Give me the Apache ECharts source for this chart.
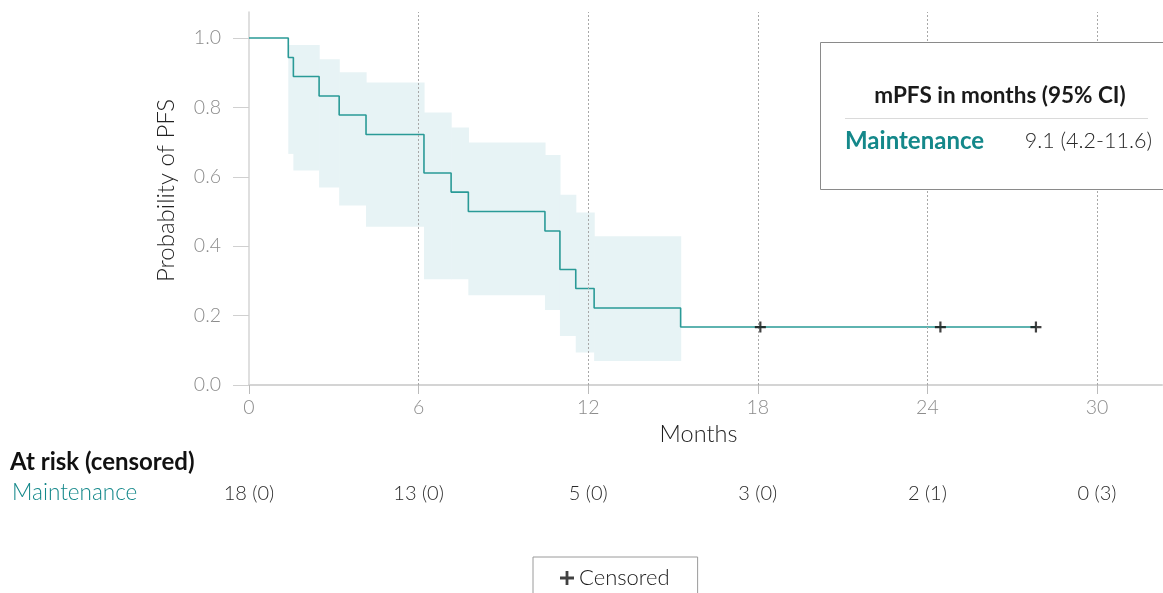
<!DOCTYPE html>
<html>
<head>
<meta charset="utf-8">
<script src="https://cdn.jsdelivr.net/npm/echarts@6/dist/echarts.min.js"></script>
<style>
html,body{margin:0;padding:0;background:#fff;}
#c{width:1163px;height:593px;}
</style>
</head>
<body>
<div id="c"></div>
<script>
// ---- data ----
const eventTimes = [0, 1.39, 1.57, 2.48, 3.19, 4.14, 6.19, 7.15, 7.76, 10.47, 11.0, 11.56, 12.21, 15.27, 27.84];
const survival   = [1.0, 0.944, 0.889, 0.833, 0.778, 0.722, 0.611, 0.556, 0.5, 0.444, 0.333, 0.278, 0.222, 0.167, 0.167];
const bandStarts = [1.39, 1.57, 2.48, 3.19, 4.14, 6.19, 7.15, 7.76, 10.47, 11.0, 11.56, 12.21];
const bandEnds   = [1.57, 2.48, 3.19, 4.14, 6.19, 7.15, 7.76, 10.47, 11.0, 11.56, 12.21, 15.27];
const ciUpper    = [0.98, 0.98, 0.939, 0.901, 0.872, 0.785, 0.742, 0.699, 0.663, 0.548, 0.497, 0.429];
const ciLower    = [0.666, 0.618, 0.569, 0.517, 0.456, 0.305, 0.305, 0.259, 0.216, 0.141, 0.094, 0.069];
const censorTimes  = [18.09, 24.46, 27.84];
const censorValues = [0.167, 0.167, 0.167];
const xTicks = [0, 6, 12, 18, 24, 30];
const gridMonths = [6, 12, 18, 24, 30];
const yTicks = [0, 0.2, 0.4, 0.6, 0.8, 1.0];
const atRiskTimes  = [0, 6, 12, 18, 24, 30];
const atRiskLabels = ['18 (0)', '13 (0)', '5 (0)', '3 (0)', '2 (1)', '0 (3)'];
const groupName = 'Maintenance';
const medianText = '9.1 (4.2-11.6)';

// ---- style ----
const FONT = 'Lato, "Noto Sans", sans-serif';
const TEAL = '#2a9a97';
const TEAL_TEXT = '#14888a';
const BAND = '#e7f3f5';
const PLUS = 'path://M4,0H6V4H10V6H6V10H4V6H0V4H4Z';

const chart = echarts.init(document.getElementById('c'), null, {renderer: 'canvas'});

const option = {
  animation: false,
  backgroundColor: '#fff',
  textStyle: {fontFamily: FONT},
  grid: {left: 249, right: 1, top: 12, bottom: 208, containLabel: false},
  xAxis: [{
    type: 'value', min: 0, max: 32.3,
    name: 'Months', nameLocation: 'middle', nameGap: 35,
    nameTextStyle: {fontFamily: FONT, fontSize: 23.5, color: '#1e1e1e', fontWeight: 300, padding: [0, 14, 0, 0]},
    axisLine: {lineStyle: {color: '#d4d4d4', width: 2}},
    axisTick: {customValues: xTicks, length: 9, lineStyle: {color: '#bbb'}},
    axisLabel: {customValues: xTicks, margin: 13, color: '#8c8c8c', fontSize: 19.5, fontFamily: FONT, fontWeight: 300},
    splitLine: {show: false}
  }, {
    type: 'value', min: 0, max: 32.3, position: 'bottom', offset: 99,
    axisLine: {show: false}, axisTick: {show: false}, splitLine: {show: false},
    axisLabel: {
      customValues: atRiskTimes, margin: 0, fontSize: 20, color: '#2a2a2a', fontFamily: FONT, fontWeight: 300,
      formatter: v => atRiskLabels[atRiskTimes.indexOf(v)]
    }
  }],
  yAxis: {
    type: 'value', min: 0, max: 1.075,
    name: 'Probability of PFS', nameLocation: 'middle', nameGap: 71,
    nameTextStyle: {fontFamily: FONT, fontSize: 24, color: '#222', fontWeight: 300, padding: [0, 0, 0, 16]},
    axisLine: {show: true, lineStyle: {color: '#d4d4d4', width: 1.5}},
    axisTick: {show: true, customValues: yTicks, length: 16, lineStyle: {color: '#d0d0d0'}},
    axisLabel: {customValues: yTicks, margin: 28, color: '#8c8c8c', fontSize: 19.5, fontFamily: FONT, fontWeight: 300,
      formatter: v => v.toFixed(1)},
    splitLine: {show: false}
  },
  legend: {
    data: [{name: 'Censored', icon: PLUS}],
    left: 533, top: 557,
    padding: [10, 28, 30, 27],
    borderColor: '#9a9a9a', borderWidth: 1,
    itemWidth: 14, itemHeight: 14, itemGap: 8,
    textStyle: {fontFamily: FONT, fontSize: 22, color: '#1a1a1a', fontWeight: 300},
    selectedMode: false
  },
  series: [{
    type: 'custom', name: 'CI', xAxisIndex: 0, yAxisIndex: 0, z: 1,
    silent: true,
    data: bandStarts.map((s, i) => [s, bandEnds[i], ciLower[i], ciUpper[i]]),
    renderItem: (params, api) => {
      const p1 = api.coord([api.value(0), api.value(3)]);
      const p2 = api.coord([api.value(1), api.value(2)]);
      return {type: 'rect', shape: {x: p1[0], y: p1[1], width: p2[0] - p1[0] + 0.6, height: p2[1] - p1[1]},
        style: {fill: BAND}};
    }
  }, {
    type: 'line', name: groupName, step: 'end', z: 3,
    data: eventTimes.map((t, i) => [t, survival[i]]),
    showSymbol: false, silent: true,
    lineStyle: {color: TEAL, width: 1.6},
    markLine: {
      silent: true, symbol: 'none', label: {show: false},
      lineStyle: {color: '#a8a8a8', type: [2, 2], width: 1},
      data: gridMonths.map(v => ({xAxis: v}))
    }
  }, {
    type: 'scatter', name: 'Censored', z: 5,
    data: censorTimes.map((t, i) => [t, censorValues[i]]),
    symbol: PLUS, symbolSize: 11,
    itemStyle: {color: '#111'}, silent: true
  }],
  graphic: [
    {type: 'rect', z: 100, shape: {x: 820.5, y: 42.5, width: 360, height: 147},
      style: {fill: '#fff', stroke: '#8a8a8a', lineWidth: 1}},
    {type: 'text', z: 101, x: 1000, y: 96,
      style: {text: 'mPFS in months (95% CI)', fontFamily: FONT, fontSize: 22.5, fontWeight: 'bold', fill: '#1a1a1a',
        align: 'center', verticalAlign: 'middle'}},
    {type: 'line', z: 101, shape: {x1: 845, y1: 118.5, x2: 1148, y2: 118.5},
      style: {stroke: '#dadada', lineWidth: 1}},
    {type: 'text', z: 101, x: 845, y: 141,
      style: {text: groupName, fontFamily: FONT, fontSize: 24, fontWeight: 'bold', fill: TEAL_TEXT,
        align: 'left', verticalAlign: 'middle'}},
    {type: 'text', z: 101, x: 1152, y: 141,
      style: {text: medianText, fontFamily: FONT, fontSize: 21.5, fontWeight: 300, fill: '#2a2a2a',
        align: 'right', verticalAlign: 'middle'}},
    {type: 'text', z: 101, x: 10, y: 462,
      style: {text: 'At risk (censored)', fontFamily: FONT, fontSize: 24, fontWeight: 'bold', fill: '#111',
        align: 'left', verticalAlign: 'middle'}},
    {type: 'text', z: 101, x: 12, y: 493,
      style: {text: groupName, fontFamily: FONT, fontSize: 22.5, fontWeight: 300, fill: TEAL_TEXT,
        align: 'left', verticalAlign: 'middle'}}
  ]
};
chart.setOption(option);
</script>
</body>
</html>
